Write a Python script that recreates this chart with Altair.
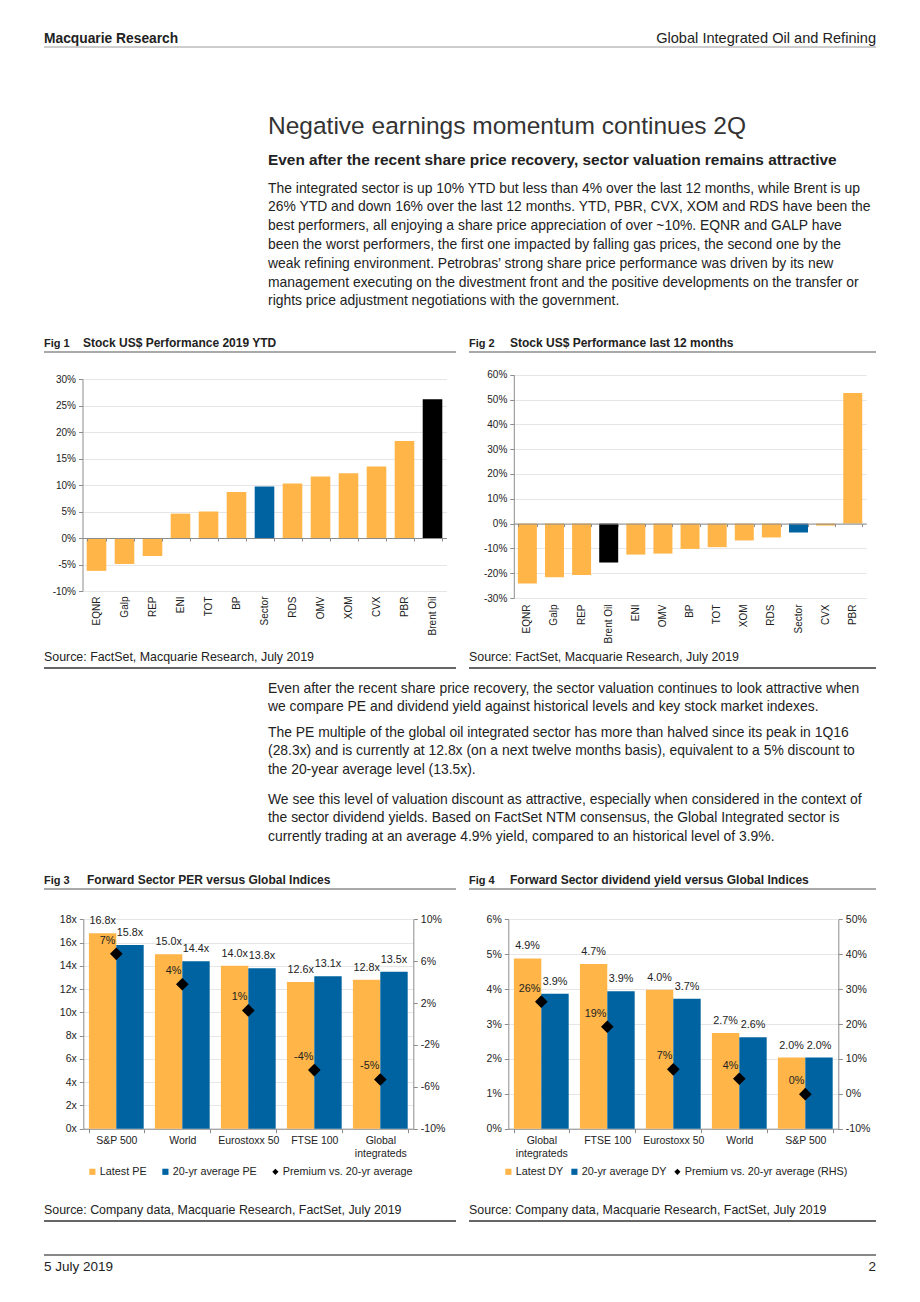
import altair as alt
import pandas as pd

# ------------------------------------------------------------------ data
fig1_names = ["EQNR", "Galp", "REP", "ENI", "TOT", "BP", "Sector", "RDS",
              "OMV", "XOM", "CVX", "PBR", "Brent Oil"]
fig1_values = [-6.2, -4.9, -3.4, 4.6, 5.0, 8.7, 9.7, 10.3, 11.6, 12.2, 13.5, 18.3, 26.2]

fig2_names = ["EQNR", "Galp", "REP", "Brent Oil", "ENI", "OMV", "BP", "TOT",
              "XOM", "RDS", "Sector", "CVX", "PBR"]
fig2_values = [-24.2, -21.6, -20.7, -15.7, -12.5, -12.1, -10.2, -9.5, -6.8, -5.6, -3.6, -0.8, 52.6]

fig3_index = ["S&P 500", "World", "Eurostoxx 50", "FTSE 100", "Global integrateds"]
fig3_latest = [16.8, 15.0, 14.0, 12.6, 12.8]
fig3_avg = [15.8, 14.4, 13.8, 13.1, 13.5]
fig3_premium = [6.7, 3.8, 1.3, -4.4, -5.3]
fig3_series = ["Latest PE", "20-yr average PE", "Premium vs. 20-yr average"]

fig4_index = ["Global integrateds", "FTSE 100", "Eurostoxx 50", "World", "S&P 500"]
fig4_latest = [4.88, 4.72, 3.98, 2.74, 2.04]
fig4_avg = [3.87, 3.94, 3.72, 2.62, 2.04]
fig4_premium = [26.4, 19.2, 7.0, 4.3, -0.1]
fig4_series = ["Latest DY", "20-yr average DY", "Premium vs. 20-yr average (RHS)"]

header_left = "Macquarie Research"
header_right = "Global Integrated Oil and Refining"
page_title = "Negative earnings momentum continues 2Q"
page_subtitle = "Even after the recent share price recovery, sector valuation remains attractive"
para1 = [
    "The integrated sector is up 10% YTD but less than 4% over the last 12 months, while Brent is up",
    "26% YTD and down 16% over the last 12 months. YTD, PBR, CVX, XOM and RDS have been the",
    "best performers, all enjoying a share price appreciation of over ~10%. EQNR and GALP have",
    "been the worst performers, the first one impacted by falling gas prices, the second one by the",
    "weak refining environment. Petrobras\u2019 strong share price performance was driven by its new",
    "management executing on the divestment front and the positive developments on the transfer or",
    "rights price adjustment negotiations with the government.",
]
para2 = [
    "Even after the recent share price recovery, the sector valuation continues to look attractive when",
    "we compare PE and dividend yield against historical levels and key stock market indexes.",
]
para3 = [
    "The PE multiple of the global oil integrated sector has more than halved since its peak in 1Q16",
    "(28.3x) and is currently at 12.8x (on a next twelve months basis), equivalent to a 5% discount to",
    "the 20-year average level (13.5x).",
]
para4 = [
    "We see this level of valuation discount as attractive, especially when considered in the context of",
    "the sector dividend yields. Based on FactSet NTM consensus, the Global Integrated sector is",
    "currently trading at an average 4.9% yield, compared to an historical level of 3.9%.",
]
fig_numbers = ["Fig 1", "Fig 2", "Fig 3", "Fig 4"]
fig_titles = ["Stock US$ Performance 2019 YTD", "Stock US$ Performance last 12 months",
              "Forward Sector PER versus Global Indices",
              "Forward Sector dividend yield versus Global Indices"]
sources = ["Source: FactSet, Macquarie Research, July 2019",
           "Source: FactSet, Macquarie Research, July 2019",
           "Source: Company data, Macquarie Research, FactSet, July 2019",
           "Source: Company data, Macquarie Research, FactSet, July 2019"]
footer_left = "5 July 2019"
footer_right = "2"

# ------------------------------------------------------------------ style
FONT = "Liberation Sans"
ORANGE = "#FFB547"
BLUE = "#0063A1"
BLACK = "#000000"
TXT = "#222222"
AX = "#8C8C8C"
GRID = "#E6E6E6"

W, H = 904, 1278
P_INNER, P_OUTER = 0.17, 0.085


def px(v):
    # page pixel -> plot pixel (8px page margin)
    return v - 8


def blank():
    return alt.Chart(alt.Data(values=[{}]))


def text_block(lines, x, y, size=13.9, weight="normal", align="left", lh=18.7,
               color=TXT):
    return blank().mark_text(
        align=align, baseline="alphabetic", fontSize=size,
        fontWeight=weight, color=color, lineHeight=lh
    ).encode(x=alt.value(px(x)), y=alt.value(px(y)), text=alt.value(lines))


def hrule(x0, x1, y, color, width=1.0):
    return blank().mark_rule(color=color, strokeWidth=width).encode(
        x=alt.value(px(x0)), x2=alt.value(px(x1)), y=alt.value(px(y)))


def perf_chart(names, values, x0, x1, ybot, ytop, dom, step, label_pad):
    colors = [BLUE if n == "Sector" else BLACK if n == "Brent Oil" else ORANGE for n in names]
    df = pd.DataFrame({"name": names, "value": values})
    xr = [px(x0), px(x1)]
    yr = [px(ybot), px(ytop)]
    xs = alt.Scale(type="band", domain=names, range=xr, paddingInner=0.3, paddingOuter=0.15)
    ys = alt.Scale(domain=dom, range=yr, nice=False, zero=False)
    zero_y = yr[0] + (0 - dom[0]) / (dom[1] - dom[0]) * (yr[1] - yr[0])
    base = alt.Chart(df)
    bars = base.mark_bar().encode(
        x=alt.X("name:N", sort=names, scale=xs,
                axis=alt.Axis(orient="bottom", offset=-(H - yr[0]), domain=False, ticks=False,
                              tickSize=0, labelAngle=-90, labelPadding=label_pad, labelFontSize=10,
                              labelColor=TXT, title=None, labelOverlap=False)),
        y=alt.Y("value:Q", scale=ys,
                axis=alt.Axis(orient="left", offset=-xr[0],
                              values=list(range(dom[0], dom[1] + 1, step)),
                              labelExpr="datum.value + '%'", grid=True, gridColor=GRID,
                              domainColor=AX, tickColor=AX, tickSize=4, labelPadding=3,
                              labelFontSize=10, labelColor=TXT, title=None)),
        y2=alt.datum(0),
        color=alt.Color("name:N", scale=alt.Scale(domain=names, range=colors), legend=None),
    )
    zero = base.mark_bar(opacity=0).encode(
        x=alt.X("name:N", sort=names, scale=xs,
                axis=alt.Axis(orient="bottom", offset=-(H - zero_y), labels=False,
                              domainColor=AX, tickColor=AX, tickSize=3, tickBand="extent",
                              title=None, grid=False, zindex=1)),
        y=alt.Y("value:Q", scale=ys, axis=None),
        y2=alt.datum(0),
    )
    return alt.layer(bars, zero).resolve_scale(
        x="independent", y="independent", color="independent"
    ).resolve_axis(x="independent", y="independent")


def valuation(cats, latest, avg, prem, names, x0, x1, ybot, ytop, ldom, lvals, lsuf,
              rdom, rvals, bar_suf, leg_x, leg_y, leg_pad):
    s_latest, s_avg, s_prem = names
    n = len(cats)
    df = pd.DataFrame({"cat": cats * 2, "series": [s_latest] * n + [s_avg] * n,
                       "value": latest + avg})
    dp = pd.DataFrame({"cat": cats, "series": [s_prem] * n, "prem": prem})
    xr = [px(x0), px(x1)]
    yr = [px(ybot), px(ytop)]
    xs = alt.Scale(type="band", domain=cats, range=xr, paddingInner=P_INNER, paddingOuter=P_OUTER)
    xo = alt.Scale(type="band", domain=[s_latest, s_avg], paddingInner=0, paddingOuter=0)
    yl = alt.Scale(domain=ldom, range=yr, nice=False, zero=False)
    yrs = alt.Scale(domain=rdom, range=yr, nice=False, zero=False)
    cs = alt.Scale(domain=[s_latest, s_avg, s_prem], range=[ORANGE, BLUE, BLACK])
    leg = alt.Legend(orient="none", legendX=px(leg_x), legendY=px(leg_y), direction="horizontal",
                     title=None,
                     symbolType={"expr": f"datum.value == '{s_prem}' ? 'diamond' : 'square'"},
                     symbolSize=38, symbolStrokeWidth=0, labelFontSize=10.8, labelColor=TXT,
                     labelOffset=2, columnPadding=leg_pad, padding=0, labelLimit=400)
    xaxis = alt.Axis(orient="bottom", offset=-(H - yr[0]), tickBand="extent", tickSize=4,
                     domainColor=AX, tickColor=AX, labelPadding=3, labelFontSize=10.5,
                     labelColor=TXT, labelLineHeight=12.7, labelAngle=0,
                     labelExpr="length(datum.label) > 14 ? split(datum.label, ' ') : datum.label",
                     title=None, labelOverlap=False)
    bars = alt.Chart(df).mark_bar().encode(
        x=alt.X("cat:N", sort=cats, scale=xs, axis=xaxis),
        xOffset=alt.XOffset("series:N", sort=[s_latest, s_avg], scale=xo),
        y=alt.Y("value:Q", scale=yl,
                axis=alt.Axis(orient="left", offset=-xr[0], values=lvals,
                              labelExpr=f"datum.value + '{lsuf}'", grid=True, gridColor=GRID,
                              domainColor=AX, tickColor=AX, tickSize=4, labelPadding=3,
                              labelFontSize=10.5, labelColor=TXT, title=None)),
        color=alt.Color("series:N", scale=cs, legend=leg),
    )
    blab = alt.Chart(df).transform_calculate(
        lbl=f"format(datum.value, '.1f') + '{bar_suf}'"
    ).mark_text(baseline="middle", dy=-12, fontSize=10.8, color=TXT).encode(
        x=alt.X("cat:N", sort=cats, scale=xs, axis=None),
        xOffset=alt.XOffset("series:N", sort=[s_latest, s_avg], scale=xo),
        y=alt.Y("value:Q", scale=yl, axis=None),
        text="lbl:N",
    )
    dia = alt.Chart(dp).mark_point(shape="diamond", filled=True, size=160, opacity=1).encode(
        x=alt.X("cat:N", sort=cats, scale=xs, axis=None),
        y=alt.Y("prem:Q", scale=yrs,
                axis=alt.Axis(orient="right", offset=xr[1] - W, values=rvals,
                              labelExpr="datum.value + '%'", grid=False, domainColor=AX,
                              tickColor=AX, tickSize=4, labelPadding=3, labelFontSize=10.5,
                              labelColor=TXT, title=None)),
        color=alt.Color("series:N", scale=cs, legend=leg),
    )
    dlab = alt.Chart(dp).transform_calculate(
        lbl="round(datum.prem) + '%'"
    ).mark_text(align="right", baseline="middle", dx=-1, dy=-13, fontSize=10.8, color=TXT).encode(
        x=alt.X("cat:N", sort=cats, scale=xs, axis=None),
        y=alt.Y("prem:Q", scale=yrs, axis=None),
        text="lbl:N",
    )
    return alt.layer(bars, blab, dia, dlab).resolve_scale(
        x="independent", y="independent", xOffset="independent"
    ).resolve_axis(x="independent", y="independent")


# ------------------------------------------------------------------ figures
fig1 = perf_chart(fig1_names, fig1_values, 82.5, 446.5, 591, 379, [-10, 30], 5, 5)
fig2 = perf_chart(fig2_names, fig2_values, 513.8, 866.3, 598, 374.7, [-30, 60], 10, 6)

fig3 = valuation(fig3_index, fig3_latest, fig3_avg, fig3_premium, fig3_series,
                 83.3, 413.3, 1128.7, 919.3, [0, 18], list(range(0, 19, 2)), "x",
                 [-10, 10], [-10, -6, -2, 2, 6, 10], "x", 87, 1166, 13)
fig4 = valuation(fig4_index, fig4_latest, fig4_avg, fig4_premium, fig4_series,
                 508.3, 838.3, 1128.7, 919.3, [0, 6], list(range(0, 7)), "%",
                 [-10, 50], list(range(-10, 51, 10)), "%", 503, 1166, 5)

# ------------------------------------------------------------------ page text
texts = [
    text_block(header_left, 44, 42.5, size=13.8, weight="bold"),
    text_block(header_right, 876, 42.5, size=14.6, align="right"),
    hrule(44, 876, 47, "#9A9A9A", 1),
    text_block(page_title, 268, 134, size=24.5, color="#333333"),
    text_block(page_subtitle, 268, 165, size=15.4, weight="bold"),
    text_block(para1, 268, 192.5, lh=18.8),
    text_block(para2, 268, 692.5),
    text_block(para3, 268, 736.5),
    text_block(para4, 268, 803.5),
    hrule(44, 876, 1255, "#111111", 1),
    text_block(footer_left, 44, 1270.5, size=13.5),
    text_block(footer_right, 876, 1270.5, size=13.5, align="right"),
]
fig_pos = [(44, 83, 456, 347, 352, 661, 668), (469, 510, 876, 347, 352, 661, 668),
           (44, 87, 456, 884, 889, 1214, 1221), (469, 510, 876, 884, 889, 1214, 1221)]
for i, (xa, xb, xe, ty, ry, sy, sry) in enumerate(fig_pos):
    texts += [
        text_block(fig_numbers[i], xa, ty, size=11, weight="bold"),
        text_block(fig_titles[i], xb, ty, size=12, weight="bold"),
        hrule(xa, xe, ry, "#8C8C8C", 1.5),
        text_block(sources[i], xa, sy, size=12.4),
        hrule(xa, xe, sry, "#333333", 1.5),
    ]

chart = alt.layer(*texts, fig1, fig2, fig3, fig4).resolve_scale(
    x="independent", y="independent", color="independent", xOffset="independent"
).resolve_axis(
    x="independent", y="independent"
).properties(
    width=W, height=H, autosize=alt.AutoSizeParams(type="none"), padding=0,
    background="white"
).configure_view(stroke=None).configure_axis(
    labelFont=FONT
).configure_legend(labelFont=FONT).configure_text(font=FONT)

chart.save("out.html", embed_options={"renderer": "svg", "actions": False})
